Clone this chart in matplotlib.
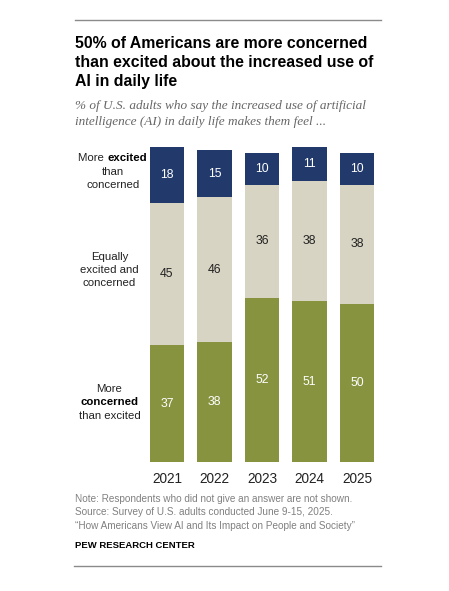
import matplotlib.pyplot as plt
import numpy as np

years = ["2021", "2022", "2023", "2024", "2025"]
concerned = [37, 38, 52, 51, 50]
equal = [45, 46, 36, 38, 38]
excited = [18, 15, 10, 11, 10]

BLUE = "#213a6b"
BEIGE = "#d8d4c3"
GREEN = "#87933f"

W, H = 449, 591
plt.rcParams["font.family"] = ["Liberation Sans", "DejaVu Sans"]

fig = plt.figure(figsize=(W / 100, H / 100), dpi=100)

# axes placed in pixel terms: bars centered 167..357, bottom at y=462, 100% -> 315px
left, right = 143.25, 380.75
bottom, top = 462, 146.7
ax = fig.add_axes([left / W, 1 - bottom / H, (right - left) / W, (bottom - top) / H])

x = np.arange(len(years))
bw = 0.716
concerned_a = np.array(concerned)
equal_a = np.array(equal)
excited_a = np.array(excited)

ax.bar(x, concerned_a, bw, color=GREEN, edgecolor="none")
ax.bar(x, equal_a, bw, bottom=concerned_a, color=BEIGE, edgecolor="none")
ax.bar(x, excited_a, bw, bottom=concerned_a + equal_a, color=BLUE, edgecolor="none")

fs_val = 8.8
for i in range(len(years)):
    ax.text(x[i], concerned_a[i] / 2, str(concerned[i]), ha="center", va="center",
            color="white", fontsize=fs_val)
    ax.text(x[i], concerned_a[i] + equal_a[i] / 2, str(equal[i]), ha="center",
            va="center", color="#222222", fontsize=fs_val)
    ax.text(x[i], concerned_a[i] + equal_a[i] + excited_a[i] / 2, str(excited[i]),
            ha="center", va="center", color="white", fontsize=fs_val)

ax.set_xlim(-0.5, len(years) - 0.5)
ax.set_ylim(0, 100)
ax.set_xticks(x)
ax.set_xticklabels(years, fontsize=9.8, color="#222222")
ax.tick_params(axis="x", length=0, pad=7)
ax.set_yticks([])
for s in ax.spines.values():
    s.set_visible(False)


def px(xp, yp):
    return xp / W, 1 - yp / H


# rules
fig.add_artist(plt.Line2D([75 / W, 381 / W], [1 - 20 / H] * 2, color="#8a8a8a", lw=1))
fig.add_artist(plt.Line2D([73.5 / W, 381 / W], [1 - 565.7 / H] * 2, color="#8a8a8a", lw=1))

# title
title_lines = ["50% of Americans are more concerned",
               "than excited about the increased use of",
               "AI in daily life"]
for k, line in enumerate(title_lines):
    fig.text(*px(75, 43.5 + k * 19), line, fontsize=11.4, fontweight="bold",
             ha="left", va="center", color="black")

sub_lines = ["% of U.S. adults who say the increased use of artificial",
             "intelligence (AI) in daily life makes them feel ..."]
for k, line in enumerate(sub_lines):
    fig.text(*px(75, 106 + k * 15.7), line, fontsize=9.5, style="italic",
             family=["Liberation Serif", "DejaVu Serif"], ha="left", va="center",
             color="#666666")

# left category labels
fs_lab = 8.2
lc = "#222222"
# excited block
fig.text(*px(107.5, 158.3), "More ", fontsize=fs_lab, ha="right", va="center", color=lc)
fig.text(*px(107.5, 158.3), "excited", fontsize=fs_lab, fontweight="bold", ha="left",
         va="center", color="black")
fig.text(*px(113, 172), "than", fontsize=fs_lab, ha="center", va="center", color=lc)
fig.text(*px(113, 185), "concerned", fontsize=fs_lab, ha="center", va="center", color=lc)
# equal block
for k, line in enumerate(["Equally", "excited and", "concerned"]):
    fig.text(*px(109.5, 256.7 + k * 13.3), line, fontsize=fs_lab, ha="center",
             va="center", color=lc)
# concerned block
fig.text(*px(109.5, 389), "More", fontsize=fs_lab, ha="center", va="center", color=lc)
fig.text(*px(109.5, 402.3), "concerned", fontsize=fs_lab, fontweight="bold",
         ha="center", va="center", color="black")
fig.text(*px(109.5, 416), "than excited", fontsize=fs_lab, ha="center", va="center",
         color=lc)

# notes
notes = ["Note: Respondents who did not give an answer are not shown.",
         "Source: Survey of U.S. adults conducted June 9-15, 2025.",
         "\u201cHow Americans View AI and Its Impact on People and Society\u201d"]
for k, line in enumerate(notes):
    fig.text(*px(75, 499 + k * 13.3), line, fontsize=7.2, ha="left", va="center",
             color="#808080")
fig.text(*px(75, 545), "PEW RESEARCH CENTER", fontsize=6.8, fontweight="bold",
         ha="left", va="center", color="black")

fig.savefig("out.png", dpi=100, facecolor="white")
